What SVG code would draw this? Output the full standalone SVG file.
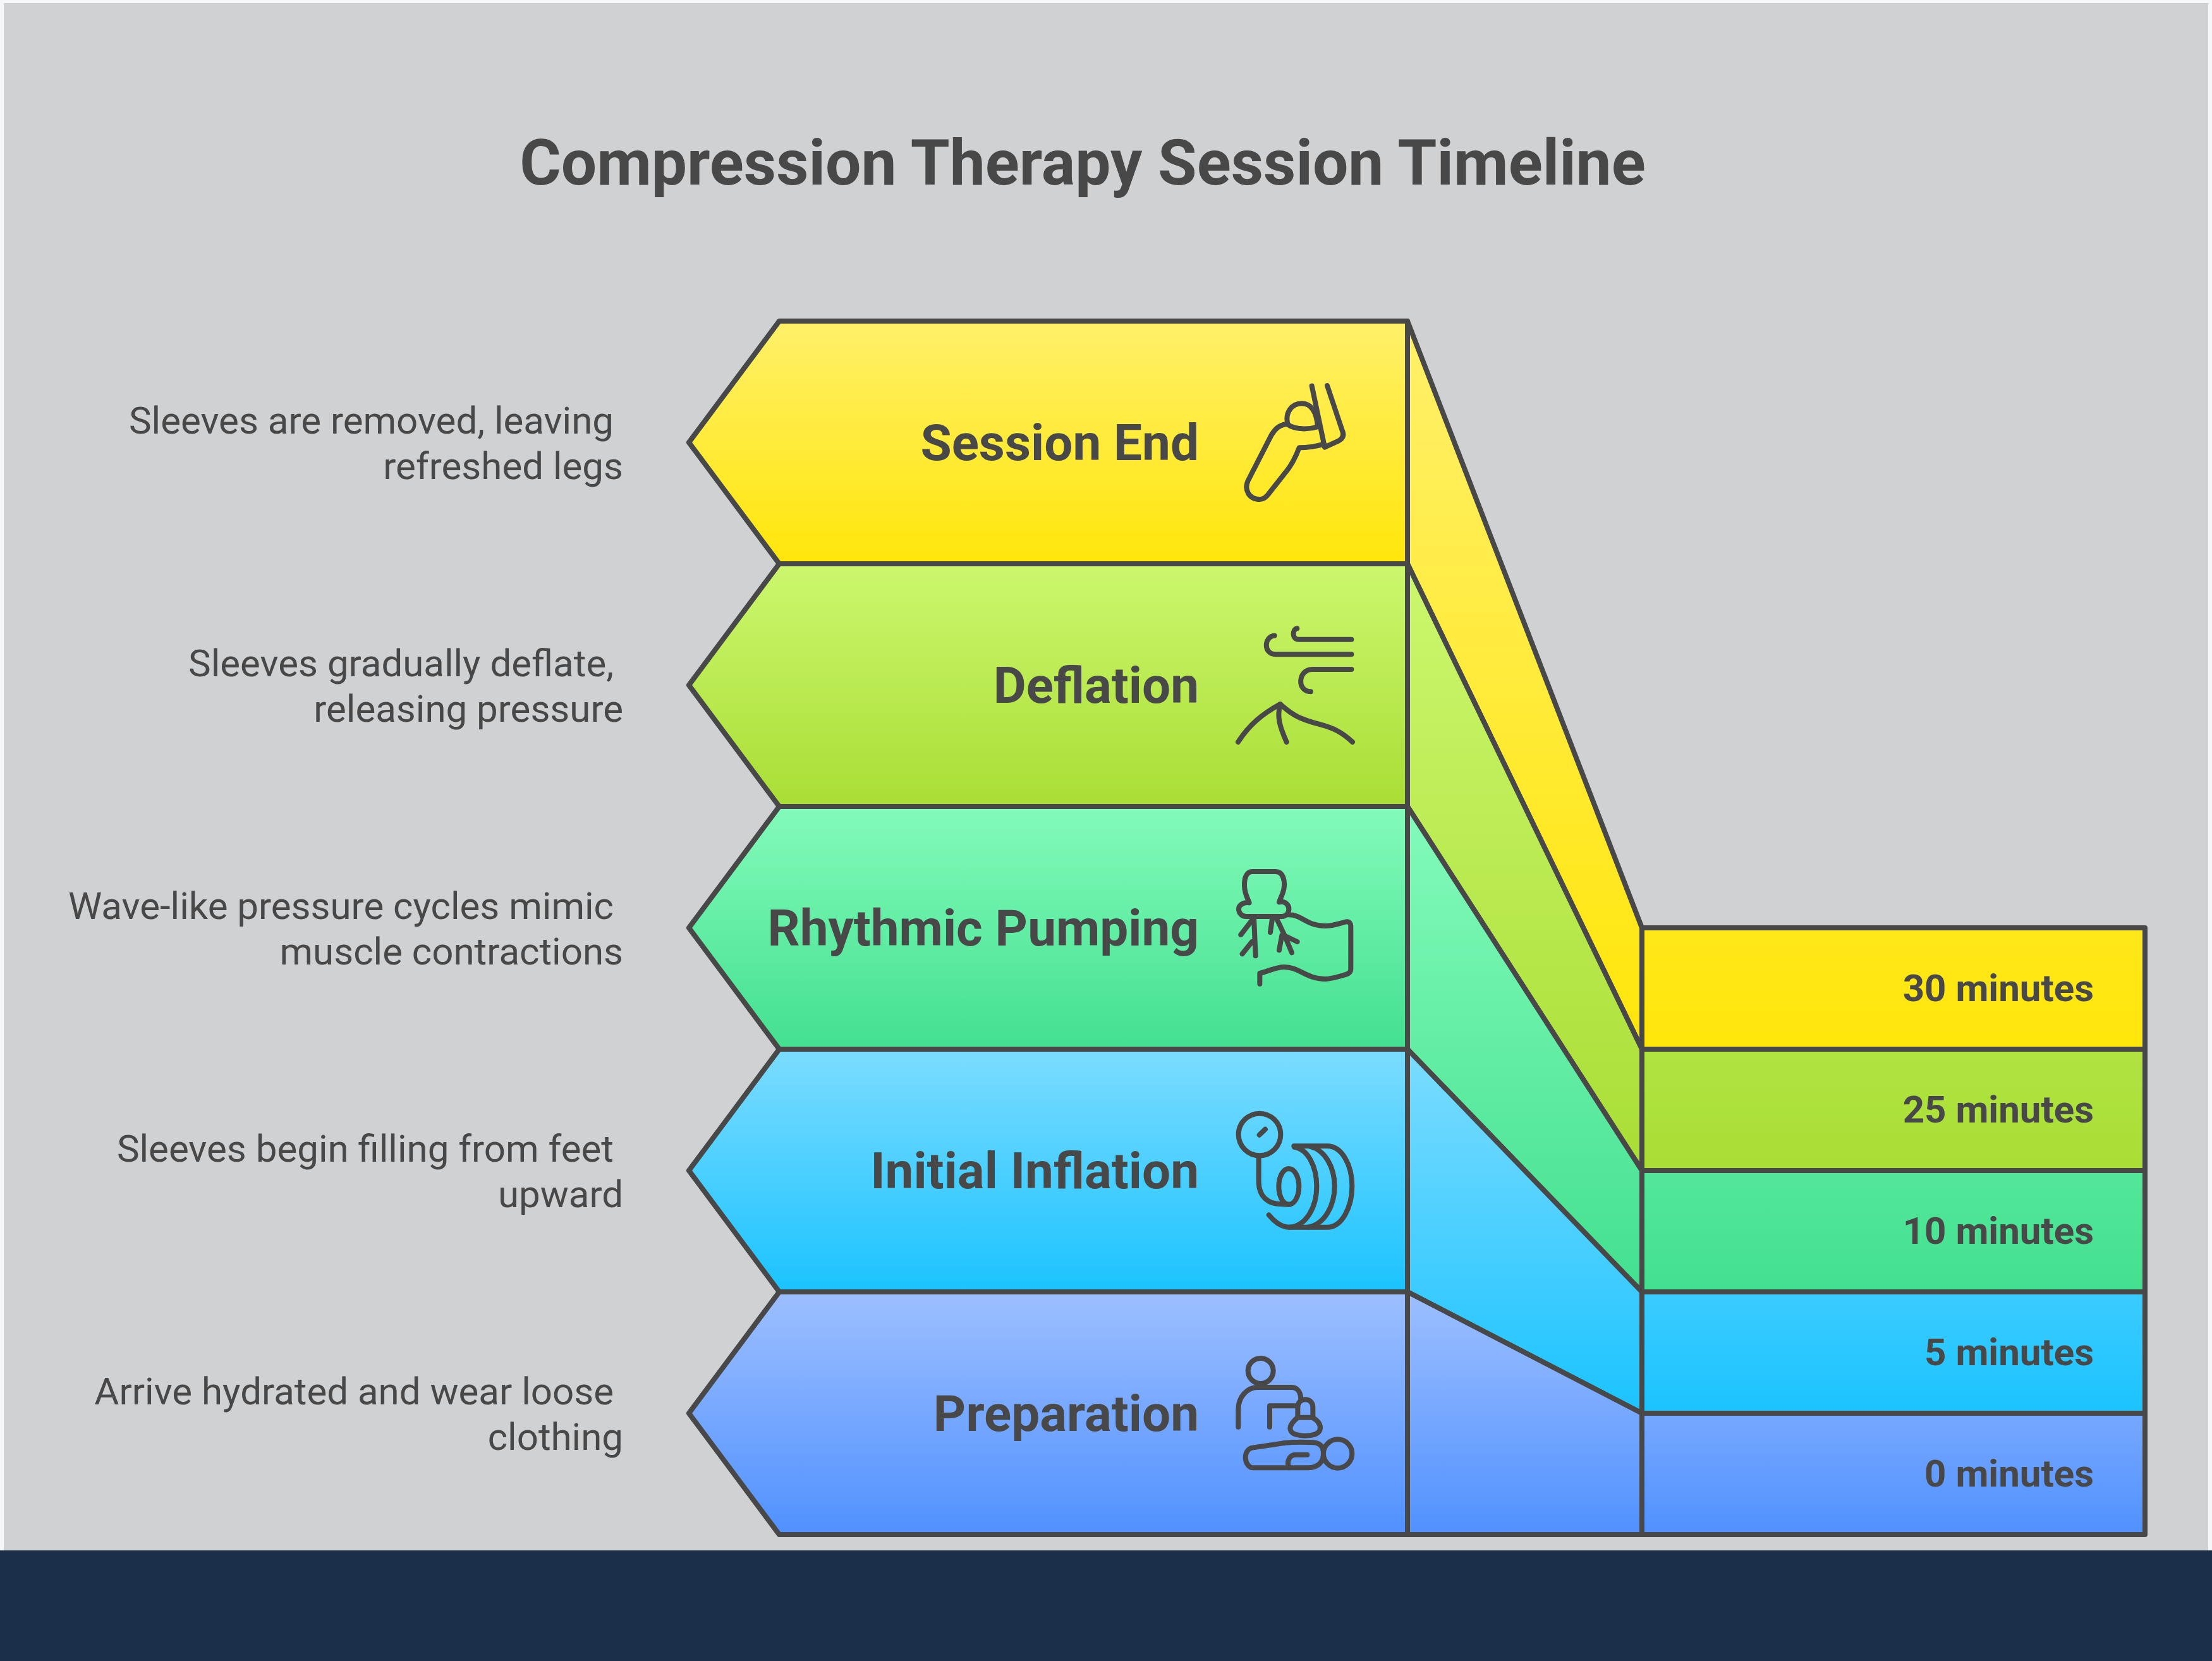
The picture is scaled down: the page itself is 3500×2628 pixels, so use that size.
<svg xmlns="http://www.w3.org/2000/svg" width="3500" height="2628" viewBox="0 0 3500 2628">
<style>
.sh{stroke:#484848;stroke-width:8;stroke-linejoin:round}
.ic{fill:none;stroke:#484848;stroke-width:24;stroke-linecap:round;stroke-linejoin:round}
text{font-family:Roboto,"Liberation Sans",sans-serif;fill:#484848}
.t{font-size:100px;font-weight:700;text-anchor:middle}
.n{font-size:80px;font-weight:700;text-anchor:end}
.m{font-size:60px;font-weight:700;text-anchor:end}
.d{font-size:60px;text-anchor:end}
</style>
<defs>
<linearGradient id="y" x1="0" y1="508" x2="0" y2="892" gradientUnits="userSpaceOnUse"><stop offset="0" stop-color="#fff06a"/><stop offset="1" stop-color="#ffe60a"/></linearGradient>
<linearGradient id="g" x1="0" y1="892" x2="0" y2="1276" gradientUnits="userSpaceOnUse"><stop offset="0" stop-color="#ccf76e"/><stop offset="1" stop-color="#a9de35"/></linearGradient>
<linearGradient id="e" x1="0" y1="1276" x2="0" y2="1660" gradientUnits="userSpaceOnUse"><stop offset="0" stop-color="#83fbba"/><stop offset="1" stop-color="#43e08f"/></linearGradient>
<linearGradient id="b" x1="0" y1="1660" x2="0" y2="2044" gradientUnits="userSpaceOnUse"><stop offset="0" stop-color="#7cdcff"/><stop offset="1" stop-color="#1bc3ff"/></linearGradient>
<linearGradient id="p" x1="0" y1="2044" x2="0" y2="2428" gradientUnits="userSpaceOnUse"><stop offset="0" stop-color="#9dbfff"/><stop offset="1" stop-color="#5091ff"/></linearGradient>
<linearGradient id="y2" x1="0" y1="508" x2="0" y2="1660" gradientUnits="userSpaceOnUse"><stop offset="0" stop-color="#fff06a"/><stop offset="1" stop-color="#ffe60a"/></linearGradient>
<linearGradient id="g2" x1="0" y1="892" x2="0" y2="1852" gradientUnits="userSpaceOnUse"><stop offset="0" stop-color="#ccf76e"/><stop offset="1" stop-color="#a9de35"/></linearGradient>
<linearGradient id="e2" x1="0" y1="1276" x2="0" y2="2044" gradientUnits="userSpaceOnUse"><stop offset="0" stop-color="#83fbba"/><stop offset="1" stop-color="#43e08f"/></linearGradient>
<linearGradient id="b2" x1="0" y1="1660" x2="0" y2="2236" gradientUnits="userSpaceOnUse"><stop offset="0" stop-color="#7cdcff"/><stop offset="1" stop-color="#1bc3ff"/></linearGradient>
<linearGradient id="p2" x1="0" y1="2044" x2="0" y2="2428" gradientUnits="userSpaceOnUse"><stop offset="0" stop-color="#9dbfff"/><stop offset="1" stop-color="#5091ff"/></linearGradient>
</defs>
<rect width="3500" height="2628" fill="#f5f7f8"/>
<rect x="6" y="5" width="3488" height="2448" fill="#d0d1d3"/>
<rect y="2453" width="3500" height="175" fill="#1b2e4a"/>
<text class="t" x="1713" y="292">Compression Therapy Session Timeline</text>
<g id="connectors">
<polygon class="sh" fill="url(#y2)" points="2227,508 2598,1468 2598,1660 2227,892"/>
<polygon class="sh" fill="url(#g2)" points="2227,892 2598,1660 2598,1852 2227,1276"/>
<polygon class="sh" fill="url(#e2)" points="2227,1276 2598,1852 2598,2044 2227,1660"/>
<polygon class="sh" fill="url(#b2)" points="2227,1660 2598,2044 2598,2236 2227,2044"/>
<polygon class="sh" fill="url(#p2)" points="2227,2044 2598,2236 2598,2428 2227,2428"/>
</g>
<g id="session-end">
<polygon class="sh" fill="url(#y)" points="1233,508 2227,508 2227,892 1233,892 1090,700"/>
<text class="n" x="1897" y="728">Session End</text>
<g class="ic" transform="translate(1900 560) scale(.33333)">
<path d="M600 150L672 365Q685 395 655 412L588 443L527 152"/>
<path d="M412 330C400 280 430 235 480 235C520 235 550 270 555 345"/>
<path d="M412 335C450 360 510 360 560 345"/>
<path d="M410 333C370 335 350 360 335 385L225 600C205 640 225 690 280 690C300 690 315 675 325 660L400 565C430 530 450 490 467 445C510 445 550 438 585 428"/>
</g>
<text class="d" x="971" y="686">Sleeves are removed, leaving</text>
<text class="d" x="986" y="758">refreshed legs</text>
<polygon class="sh" fill="url(#y2)" points="2598,1468 3394,1468 3394,1660 2598,1660"/>
<text class="m" x="3313" y="1584">30 minutes</text>
</g>
<g id="deflation">
<polygon class="sh" fill="url(#g)" points="1233,892 2227,892 2227,1276 1233,1276 1090,1084"/>
<text class="n" x="1897" y="1112">Deflation</text>
<g class="ic" transform="translate(1900 960) scale(.33333)">
<path d="M457 103C435 105 430 155 465 155H715"/>
<path d="M350 137C300 140 295 225 355 226H715"/>
<path d="M715 297H530C460 297 455 403 522 403"/>
<path d="M177 642C230 560 290 510 377 462C440 520 480 535 560 557C630 575 670 595 720 642"/>
<path d="M377 462C360 520 375 570 407 642"/>
</g>
<text class="d" x="971" y="1070">Sleeves gradually deflate,</text>
<text class="d" x="986" y="1142">releasing pressure</text>
<polygon class="sh" fill="url(#g2)" points="2598,1660 3394,1660 3394,1852 2598,1852"/>
<text class="m" x="3313" y="1776">25 minutes</text>
</g>
<g id="rhythmic-pumping">
<polygon class="sh" fill="url(#e)" points="1233,1276 2227,1276 2227,1660 1233,1660 1090,1468"/>
<text class="n" x="1897" y="1496">Rhythmic Pumping</text>
<g class="ic" transform="translate(1900 1350) scale(.33333)">
<path d="M245 87H355C395 87 400 140 394 170C390 195 378 210 372 232C400 225 420 245 418 268C415 290 400 300 385 300H215C195 300 180 285 180 265C180 245 205 230 230 235C220 210 208 190 207 155C206 120 215 87 245 87Z"/>
<path d="M415 292C480 290 500 345 590 345C630 345 660 332 690 325C705 322 712 335 712 345V550C712 565 700 572 690 575C650 587 620 597 590 597C500 597 470 540 395 540C360 540 320 560 280 570V620"/>
<path d="M252 305L260 487M245 315L190 387M243 420L197 478M340 305L330 375M360 310L400 395L432 472M385 390L372 460M395 390L458 420"/>
</g>
<text class="d" x="971" y="1454">Wave-like pressure cycles mimic</text>
<text class="d" x="986" y="1526">muscle contractions</text>
<polygon class="sh" fill="url(#e2)" points="2598,1852 3394,1852 3394,2044 2598,2044"/>
<text class="m" x="3313" y="1968">10 minutes</text>
</g>
<g id="initial-inflation">
<polygon class="sh" fill="url(#b)" points="1233,1660 2227,1660 2227,2044 1233,2044 1090,1852"/>
<text class="n" x="1897" y="1880">Initial Inflation</text>
<g class="ic" transform="translate(1900 1730) scale(.33333)">
<circle cx="279" cy="195" r="100"/>
<path d="M278 197L306 170"/>
<path d="M275 300V420C275 490 320 525 380 525L418 527"/>
<ellipse cx="418" cy="442" rx="48" ry="85"/>
<path d="M442 250H600C670 250 718 340 718 440C718 540 670 635 600 635H420C380 635 350 610 323 577"/>
<path d="M445 255C510 265 550 350 550 440C550 540 500 630 420 635"/>
<path d="M520 252C590 270 635 350 635 440C635 530 590 620 510 635"/>
</g>
<text class="d" x="971" y="1838">Sleeves begin filling from feet</text>
<text class="d" x="986" y="1910">upward</text>
<polygon class="sh" fill="url(#b2)" points="2598,2044 3394,2044 3394,2236 2598,2236"/>
<text class="m" x="3313" y="2160">5 minutes</text>
</g>
<g id="preparation">
<polygon class="sh" fill="url(#p)" points="1233,2044 2227,2044 2227,2428 1233,2428 1090,2236"/>
<text class="n" x="1897" y="2264">Preparation</text>
<g class="ic" transform="translate(1900 2120) scale(.33333)">
<circle cx="284" cy="147" r="60"/>
<path d="M178 413V330C178 270 220 225 270 225H430C460 225 475 250 475 285"/>
<path d="M327 413V313H460"/>
<path d="M460 360V320C460 270 532 270 532 320V365"/>
<path d="M460 368H530C560 385 570 405 566 425C560 450 520 455 495 455C470 455 430 450 425 425C420 405 440 385 460 368Z"/>
<circle cx="650" cy="540" r="68"/>
<path d="M245 512L390 490C430 485 500 485 535 487C570 490 582 510 582 540C582 580 555 607 510 607H250C225 607 212 580 212 558C212 535 225 515 245 512Z"/>
<path d="M505 545H450C420 545 405 580 420 607"/>
</g>
<text class="d" x="971" y="2222">Arrive hydrated and wear loose</text>
<text class="d" x="986" y="2294">clothing</text>
<polygon class="sh" fill="url(#p2)" points="2598,2236 3394,2236 3394,2428 2598,2428"/>
<text class="m" x="3313" y="2352">0 minutes</text>
</g>
</svg>
